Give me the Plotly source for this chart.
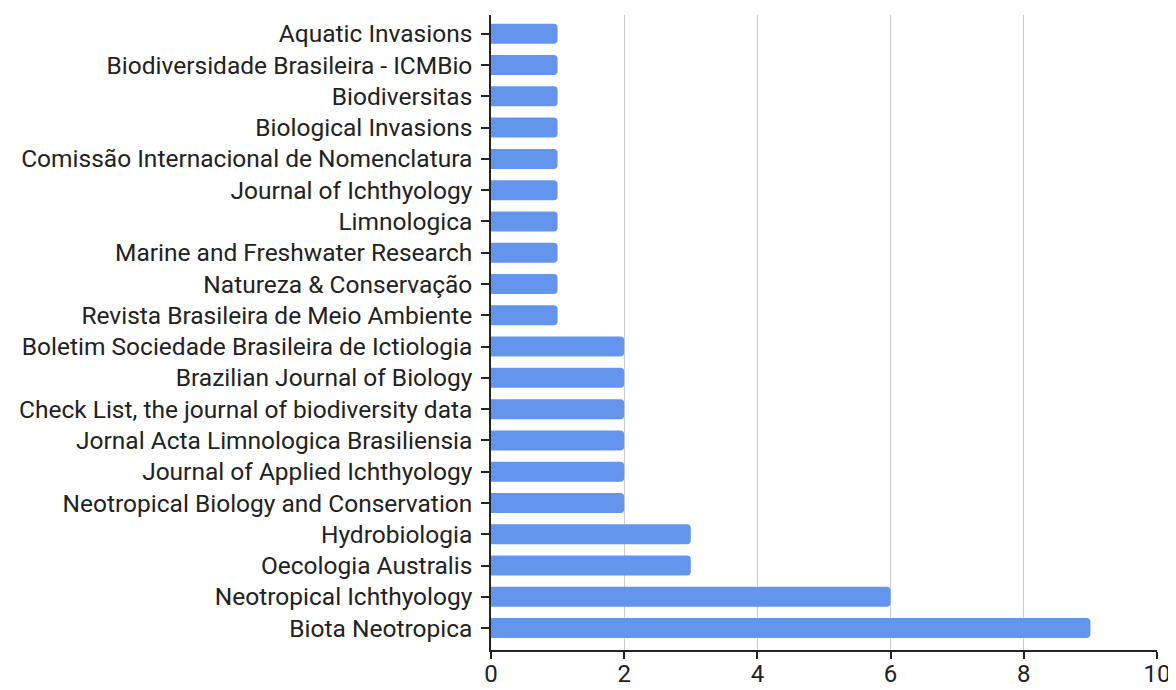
import plotly.graph_objects as go

journals = [
    "Biota Neotropica",
    "Neotropical Ichthyology",
    "Oecologia Australis",
    "Hydrobiologia",
    "Neotropical Biology and Conservation",
    "Journal of Applied Ichthyology",
    "Jornal Acta Limnologica Brasiliensia",
    "Check List, the journal of biodiversity data",
    "Brazilian Journal of Biology",
    "Boletim Sociedade Brasileira de Ictiologia",
    "Revista Brasileira de Meio Ambiente",
    "Natureza & Conservação",
    "Marine and Freshwater Research",
    "Limnologica",
    "Journal of Ichthyology",
    "Comissão Internacional de Nomenclatura",
    "Biological Invasions",
    "Biodiversitas",
    "Biodiversidade Brasileira - ICMBio",
    "Aquatic Invasions",
]
counts = [9, 6, 3, 3, 2, 2, 2, 2, 2, 2, 1, 1, 1, 1, 1, 1, 1, 1, 1, 1]
x_ticks = [0, 2, 4, 6, 8, 10]

fig = go.Figure(go.Bar(
    x=counts,
    y=journals,
    orientation="h",
    width=0.64,
    marker=dict(color="#6495ed", line=dict(width=0), cornerradius=4),
))

# page body has an 8px default margin; figure is sized to fit inside the window
fig.update_layout(
    width=1168, height=682,
    margin=dict(l=483, r=19, t=7, b=40, autoexpand=False),
    paper_bgcolor="white", plot_bgcolor="white",
    font=dict(family="Roboto, Arial, sans-serif", size=24, color="#222222"),
    showlegend=False,
)
fig.update_xaxes(
    range=[0, 10], tickvals=x_ticks, showgrid=True, gridcolor="#cccccc", gridwidth=1,
    zeroline=False, showline=True, linecolor="#222222", linewidth=1.5,
    ticks="outside", ticklen=7, tickcolor="#222222", tickwidth=1.5,
    ticklabelstandoff=-6,
    tickfont=dict(size=24, color="#222222"), automargin=False,
)
fig.update_yaxes(
    type="category", range=[-0.7, 19.6], showgrid=False, zeroline=False,
    showline=True, linecolor="#222222", linewidth=1.5,
    ticks="outside", ticklen=8, tickcolor="#222222", tickwidth=1.5,
    ticklabelstandoff=4,
    tickfont=dict(size=24.5, color="#222222"), automargin=False,
)

fig.write_html("out.html")
